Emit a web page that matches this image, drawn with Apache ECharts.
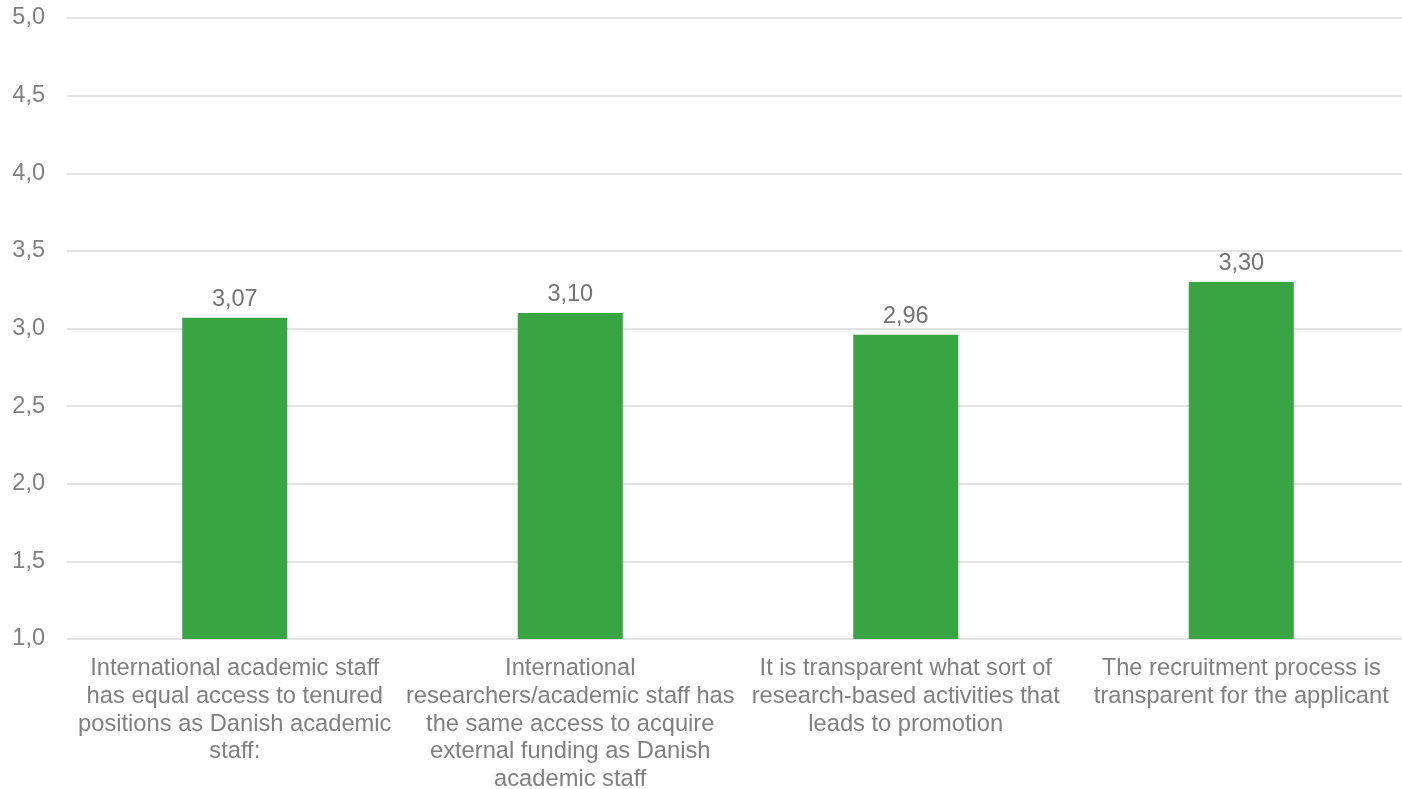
<!DOCTYPE html>
<html>
<head>
<meta charset="utf-8">
<script src="https://cdn.jsdelivr.net/npm/echarts@6/dist/echarts.min.js"></script>
<style>
  html, body { margin: 0; padding: 0; background: #ffffff; }
  #chart { width: 1402px; height: 789px; }
</style>
</head>
<body>
<div id="chart"></div>
<script>
// Survey statements (wrapped as printed under each bar)
const categories = [
  'International academic staff\nhas equal access to tenured\npositions as Danish academic\nstaff:',
  'International\nresearchers/academic staff has\nthe same access to acquire\nexternal funding as Danish\nacademic staff',
  'It is transparent what sort of\nresearch-based activities that\nleads to promotion',
  'The recruitment process is\ntransparent for the applicant'
];
// Mean scores
const values = [3.07, 3.10, 2.96, 3.30];
// Value axis range
const yMin = 1.0;
const yMax = 5.0;
const yStep = 0.5;

const fmt = (v, d) => v.toFixed(d).replace('.', ',');
const FONT = 'Liberation Sans, Arial, sans-serif';

const chart = echarts.init(document.getElementById('chart'));
chart.setOption({
  animation: false,
  // plot area runs slightly past the right edge of the canvas
  grid: { left: 67, top: 18, right: -7, bottom: 150, containLabel: false, outerBoundsMode: 'none' },
  xAxis: {
    type: 'category',
    data: categories,
    axisLine: { show: false },
    axisTick: { show: false },
    axisLabel: {
      interval: 0,
      margin: 16,
      color: '#808080',
      fontFamily: FONT,
      fontSize: 23.7,
      lineHeight: 27.6,
      align: 'center'
    }
  },
  yAxis: {
    type: 'value',
    min: yMin,
    max: yMax,
    interval: yStep,
    axisLine: { show: false },
    axisTick: { show: false },
    splitLine: { lineStyle: { color: '#d9d9d9', width: 1.5 } },
    axisLabel: {
      margin: 22,
      color: '#808080',
      fontFamily: FONT,
      fontSize: 23.5,
      formatter: v => fmt(v, 1)
    }
  },
  series: [{
    type: 'bar',
    data: values,
    barWidth: 105,
    itemStyle: { color: '#38a442' },
    label: {
      show: true,
      position: 'top',
      distance: 6,
      color: '#737373',
      fontFamily: FONT,
      fontSize: 23.5,
      formatter: p => fmt(p.value, 2)
    }
  }]
});
</script>
</body>
</html>
